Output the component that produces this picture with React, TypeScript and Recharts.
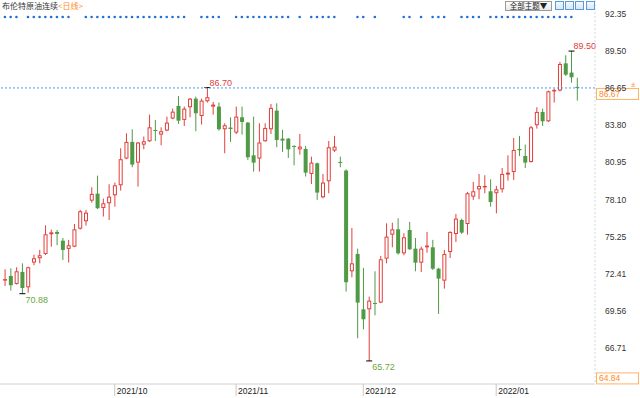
import React from 'react';
import { ComposedChart, Bar, Scatter, XAxis, YAxis, ReferenceLine } from 'recharts';

// 布伦特原油连续 daily candles, 2021-09-06 .. 2022-01-21
const DATES = [
  '2021-09-06', '2021-09-07', '2021-09-08', '2021-09-09', '2021-09-10', '2021-09-13', '2021-09-14', '2021-09-15', '2021-09-16', '2021-09-17',
  '2021-09-20', '2021-09-21', '2021-09-22', '2021-09-23', '2021-09-24', '2021-09-27', '2021-09-28', '2021-09-29', '2021-09-30', '2021-10-01',
  '2021-10-04', '2021-10-05', '2021-10-06', '2021-10-07', '2021-10-08', '2021-10-11', '2021-10-12', '2021-10-13', '2021-10-14', '2021-10-15',
  '2021-10-18', '2021-10-19', '2021-10-20', '2021-10-21', '2021-10-22', '2021-10-25', '2021-10-26', '2021-10-27', '2021-10-28', '2021-10-29',
  '2021-11-01', '2021-11-02', '2021-11-03', '2021-11-04', '2021-11-05', '2021-11-08', '2021-11-09', '2021-11-10', '2021-11-11', '2021-11-12',
  '2021-11-15', '2021-11-16', '2021-11-17', '2021-11-18', '2021-11-19', '2021-11-22', '2021-11-23', '2021-11-24', '2021-11-25', '2021-11-26',
  '2021-11-29', '2021-11-30', '2021-12-01', '2021-12-02', '2021-12-03', '2021-12-06', '2021-12-07', '2021-12-08', '2021-12-09', '2021-12-10',
  '2021-12-13', '2021-12-14', '2021-12-15', '2021-12-16', '2021-12-17', '2021-12-20', '2021-12-21', '2021-12-22', '2021-12-23', '2021-12-24',
  '2021-12-27', '2021-12-28', '2021-12-29', '2021-12-30', '2021-12-31', '2022-01-03', '2022-01-04', '2022-01-05', '2022-01-06', '2022-01-07',
  '2022-01-10', '2022-01-11', '2022-01-12', '2022-01-13', '2022-01-14', '2022-01-17', '2022-01-18', '2022-01-19', '2022-01-20', '2022-01-21',
];

const OPEN = [
  71.95, 72.24, 71.63, 72.55, 71.37, 73.27, 73.6, 73.93, 75.44, 75.62,
  74.95, 74.32, 74.49, 75.87, 76.44, 78.02, 78.56, 77.46, 77.82, 78.43,
  79.2, 81.25, 82.53, 80.94, 82.32, 82.58, 83.45, 83.09, 83.4, 84.32,
  85.29, 84.22, 85.19, 85.85, 84.52, 85.65, 85.24, 85.24, 83.5, 83.63,
  83.24, 84.42, 84.01, 81.5, 81.25, 82.58, 83.5, 84.93, 82.78, 82.78,
  82.22, 81.96, 81.99, 80.07, 80.89, 78.28, 79.51, 81.86, 80.99, 80.33,
  72.6, 73.93, 69.68, 69.68, 70.17, 70.2, 73.57, 75.41, 75.82, 73.98,
  75.77, 74.34, 73.26, 74.44, 74.44, 72.8, 71.88, 74.08, 75.46, 76.54,
  76.23, 78.33, 78.89, 79.1, 78.74, 78.59, 78.89, 80.02, 80.22, 81.99,
  81.45, 80.99, 83.81, 84.83, 84.11, 86.47, 86.47, 88.56, 87.85, 86.75,
];

const HIGH = [
  72.75, 72.83, 72.91, 73.21, 72.96, 73.88, 74.24, 76.13, 75.8, 75.77,
  75.16, 75.01, 76.23, 77.31, 77.31, 79.05, 79.94, 78.18, 79.28, 79.41,
  82.04, 83.19, 83.5, 82.52, 82.94, 84.62, 84.21, 83.65, 84.47, 85.08,
  86.06, 85.24, 85.9, 86.01, 85.85, 86.7, 85.6, 85.55, 83.96, 84.42,
  85.24, 85.24, 84.06, 84.47, 83.96, 83.96, 85.44, 85.49, 83.45, 82.83,
  82.27, 83.14, 82.22, 81.4, 80.94, 80.07, 82.6, 82.99, 81.4, 80.43,
  75.93, 74.34, 72.86, 70.66, 72.6, 73.78, 76.28, 76.33, 76.67, 75.52,
  76.39, 75.16, 74.49, 75.62, 75.01, 72.86, 74.24, 75.67, 77.0, 76.64,
  78.69, 79.46, 80.07, 79.97, 79.66, 79.15, 80.53, 81.5, 82.83, 82.99,
  82.32, 83.75, 85.19, 85.08, 86.47, 86.62, 88.67, 89.18, 89.5, 87.45,
];

const LOW = [
  71.48, 71.12, 71.58, 70.88, 70.96, 73.06, 73.21, 73.85, 74.49, 74.6,
  73.47, 73.27, 74.45, 75.8, 76.11, 77.87, 77.38, 76.8, 76.54, 77.56,
  78.79, 81.2, 80.58, 79.1, 81.96, 82.53, 82.6, 82.27, 83.35, 84.27,
  83.91, 83.75, 84.42, 83.35, 83.86, 85.55, 84.62, 83.4, 81.66, 82.53,
  83.14, 83.09, 81.15, 80.25, 80.25, 82.55, 83.14, 82.12, 81.76, 81.3,
  80.73, 81.55, 79.87, 79.3, 78.08, 78.2, 78.59, 81.76, 80.58, 71.04,
  72.14, 67.46, 68.15, 65.72, 69.22, 70.15, 73.21, 74.44, 73.88, 73.83,
  74.24, 72.6, 72.55, 74.03, 72.7, 69.33, 71.27, 73.62, 74.85, 75.46,
  75.41, 78.08, 78.13, 78.59, 77.56, 77.05, 78.64, 79.56, 79.61, 81.45,
  80.53, 80.94, 83.55, 83.75, 84.06, 85.55, 86.4, 87.59, 87.08, 85.7,
];

const CLOSE = [
  72.0, 71.53, 72.6, 71.32, 72.91, 73.6, 73.83, 75.44, 75.59, 75.47,
  74.24, 74.6, 75.82, 77.21, 77.1, 78.54, 77.44, 77.82, 78.33, 79.2,
  81.2, 82.53, 80.79, 82.48, 82.58, 83.65, 83.37, 83.35, 84.01, 84.85,
  84.16, 85.08, 85.85, 84.73, 85.7, 85.96, 85.39, 83.5, 83.81, 83.52,
  84.47, 84.06, 81.35, 80.94, 82.48, 83.6, 85.14, 82.68, 82.63, 81.96,
  82.17, 82.17, 80.17, 80.94, 78.64, 79.41, 82.12, 82.17, 80.94, 71.76,
  73.21, 70.2, 68.92, 70.35, 70.09, 73.52, 75.26, 75.82, 73.98, 75.21,
  74.29, 73.26, 74.34, 74.57, 72.8, 72.04, 73.93, 75.62, 76.64, 75.57,
  78.59, 78.74, 79.15, 79.15, 77.92, 78.89, 80.07, 80.17, 81.91, 81.89,
  80.94, 83.65, 84.83, 84.11, 86.41, 86.52, 88.51, 87.69, 87.49, 86.67,
];

// candles (1-based) that carry a news marker in the top lane
const EVENT_CANDLES = [
  1, 2, 3, 5, 6, 7, 8, 9, 10, 11, 12,
  15, 16, 17, 18, 19, 20, 21, 22, 23, 24, 25, 26, 27, 28, 29, 30, 31, 32,
  35, 36, 37, 38, 41, 42, 43, 44, 45, 46, 47, 48, 49, 50, 52, 54, 55, 56, 57, 58,
  62, 63, 65, 70, 71, 73, 75, 76, 77, 80, 81, 82, 83,
  85, 86, 87, 88, 89, 90, 91, 92, 93, 94, 95, 96, 97, 98, 99,
];

const HIGH_MARKS = ['2021-10-25', '2022-01-20'];
const LOW_MARKS = ['2021-09-09', '2021-12-02'];

const MONTH_TICKS = ['2021-10-01', '2021-11-01', '2021-12-01', '2022-01-03'];
const MONTH_LABELS = ['2021/10', '2021/11', '2021/12', '2022/01'];
const PRICE_TICKS = [92.35, 89.5, 86.65, 83.8, 80.95, 78.1, 75.25, 72.41, 69.56, 66.71];
const LAST_PRICE = 86.67;
const RANGE_LOW = 64.84;
const EVENT_LANE = 92.12;

const RED = '#e0403c';
const GREEN = '#4f9a45';
const FONT = 'Arial, "Liberation Sans", sans-serif';
const CJK = '"Noto Sans CJK SC", sans-serif';

const data = DATES.map((date, i) => ({
  date,
  open: OPEN[i],
  high: HIGH[i],
  low: LOW[i],
  close: CLOSE[i],
  event: EVENT_CANDLES.includes(i + 1) ? EVENT_LANE : null,
}));

const Candle = (props: any) => {
  const { x, y, width, height, payload } = props;
  const { open, close, high, low, date } = payload;
  const top = Math.min(y, y + height);
  const h = Math.abs(height);
  const k = h / (high - low || 1);
  const py = (v: number) => top + (high - v) * k;
  const cx = x + width / 2;
  const up = close >= open;
  const color = up ? RED : GREEN;
  const bTop = py(Math.max(open, close));
  let bBot = py(Math.min(open, close));
  if (bBot - bTop < 1) bBot = bTop + 1;
  return (
    <g>
      <line x1={cx} x2={cx} y1={py(high)} y2={py(low)} stroke={color} strokeWidth={1} />
      {up ? (
        <rect x={cx - 1.5} y={bTop + 0.5} width={3} height={Math.max(bBot - bTop - 1, 0.5)} fill="#fff" stroke={color} strokeWidth={1} />
      ) : (
        <rect x={cx - 2} y={bTop} width={4} height={bBot - bTop} fill={color} />
      )}
      {HIGH_MARKS.includes(date) && (
        <g>
          <line x1={cx - 3} x2={cx + 3} y1={py(high)} y2={py(high)} stroke="#000" />
          <text x={cx + 2} y={py(high) - 2} fontSize={9} fontFamily={FONT} fill={RED}>
            {high.toFixed(2)}
          </text>
        </g>
      )}
      {LOW_MARKS.includes(date) && (
        <g>
          <line x1={cx - 3} x2={cx + 3} y1={py(low)} y2={py(low)} stroke="#000" />
          <text x={cx + 3} y={py(low) + 9} fontSize={9} fontFamily={FONT} fill="#6aa83c">
            {low.toFixed(2)}
          </text>
        </g>
      )}
    </g>
  );
};

const EventDot = (props: any) => {
  const { cx, cy } = props;
  if (cx == null || cy == null) return <g />;
  return <circle cx={cx} cy={cy} r={1.3} fill="#1f6fd6" />;
};

const MonthTick = ({ x, y, payload }: any) => {
  const label = MONTH_LABELS[MONTH_TICKS.indexOf(payload.value)];
  return (
    <g>
      <line x1={x} x2={x} y1={y} y2={y + 12} stroke="#c8c8c8" />
      <text x={x + 2} y={y + 10} fontSize={8.5} fontFamily={FONT} fill="#222">
        {label}
      </text>
    </g>
  );
};

const PriceTick = ({ x, y, payload }: any) => (
  <text x={x + 2} y={y + 3} fontSize={8.5} fontFamily={FONT} fill="#333">
    {payload.value.toFixed(2)}
  </text>
);

const PriceBox = (value: number) => (props: any) => {
  const { viewBox } = props;
  const bx = viewBox.x + viewBox.width + 1;
  const by = viewBox.y;
  return (
    <g>
      <rect x={bx + 0.5} y={by + 0.5} width={42} height={11} fill="#fff" stroke="#ffb366" />
      <text x={bx + 3} y={by + 9} fontSize={8.5} fontFamily={FONT} fill="#ff8a1e">
        {value.toFixed(2)}
      </text>
    </g>
  );
};

const IconBtn = ({ left }: { left: number }) => (
  <div
    style={{
      position: 'absolute',
      left,
      top: 1,
      width: 9,
      height: 9,
      border: '1px solid #5b9bd9',
      background: 'linear-gradient(#f4f9ff, #d6e7fa)',
      boxSizing: 'border-box',
    }}
  />
);

export default function App() {
  return (
    <div style={{ position: 'absolute', left: 0, top: 0, width: 640, height: 398, background: '#fff', overflow: 'hidden' }}>
      <ComposedChart width={640} height={398} data={data} margin={{ top: 0, right: 0, bottom: 0, left: 0 }}>
        <XAxis
          dataKey="date"
          ticks={MONTH_TICKS}
          interval={0}
          height={14}
          tickSize={0}
          tickMargin={0}
          padding={{ left: 2, right: 15 }}
          axisLine={{ stroke: '#d0d0d0' }}
          tickLine={false}
          tick={<MonthTick />}
        />
        <YAxis
          orientation="right"
          width={45}
          domain={[63.95, 93.42]}
          allowDataOverflow
          ticks={PRICE_TICKS}
          interval={0}
          axisLine={{ stroke: '#d8d8d8', strokeDasharray: '2 2' }}
          tickLine={false}
          tick={<PriceTick />}
        />
        <ReferenceLine y={RANGE_LOW} stroke="none" label={PriceBox(RANGE_LOW)} />
        <ReferenceLine y={LAST_PRICE} stroke="#3f9cf2" strokeDasharray="2 2" label={PriceBox(LAST_PRICE)} />
        <Bar dataKey={(d: any) => [d.low, d.high]} shape={<Candle />} isAnimationActive={false} />
        <Scatter dataKey="event" shape={<EventDot />} isAnimationActive={false} />
      </ComposedChart>
      <div style={{ position: 'absolute', left: 2, top: 1, fontFamily: CJK, fontSize: 8, lineHeight: '10px', color: '#333', whiteSpace: 'nowrap' }}>
        布伦特原油连续<span style={{ color: '#ff8a1e' }}>&lt;日线&gt;</span>
      </div>
      <div
        style={{
          position: 'absolute',
          left: 505,
          top: 1,
          width: 47,
          height: 10,
          border: '1px solid #9a9a9a',
          boxSizing: 'border-box',
          background: 'linear-gradient(#ffffff, #e8e8e8)',
          fontFamily: CJK,
          fontSize: 7.5,
          lineHeight: '8px',
          textAlign: 'center',
          color: '#222',
          whiteSpace: 'nowrap',
        }}
      >
        全部主题▼
      </div>
      <IconBtn left={555} />
      <IconBtn left={565} />
      <IconBtn left={575} />
      <IconBtn left={586} />
      <div style={{ position: 'absolute', left: 631, top: 81, fontFamily: FONT, fontSize: 8, color: '#ff8a1e', lineHeight: '8px' }}>±</div>
    </div>
  );
}
